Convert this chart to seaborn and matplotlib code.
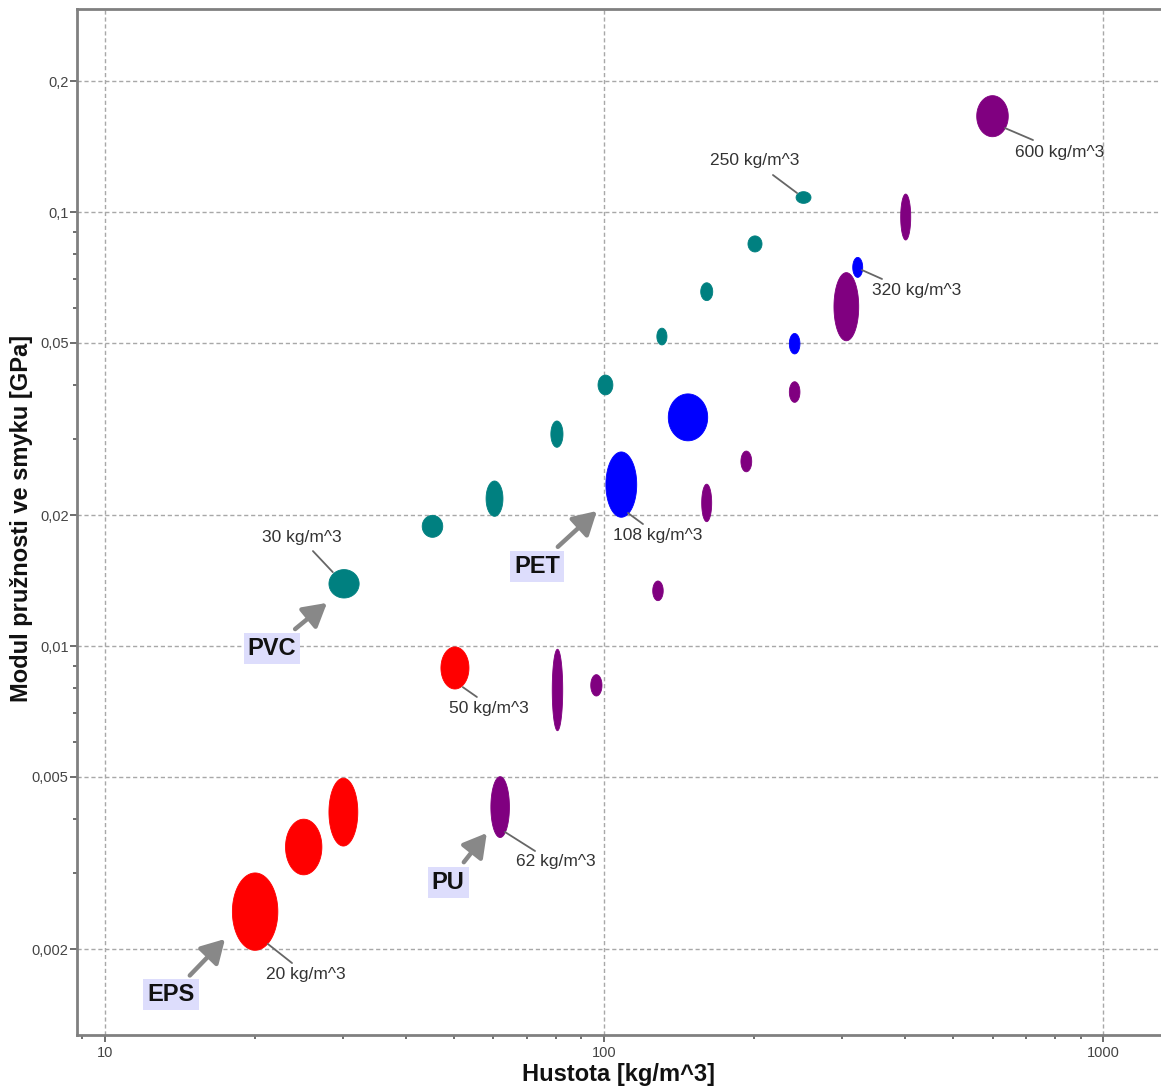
import numpy as np
import pandas as pd
import matplotlib
matplotlib.use("Agg")
import matplotlib.pyplot as plt
from matplotlib.ticker import FixedLocator, FuncFormatter, LogLocator, NullFormatter
import seaborn as sns

# ---------------- data (ranges) ----------------
eps_dens_lo = [18.0, 23.0, 28.1, 47.1]
eps_dens_hi = [22.2, 27.2, 32.1, 53.6]
eps_g_lo = [0.00199, 0.00297, 0.00346, 0.00796]
eps_g_hi = [0.00300, 0.00399, 0.00496, 0.00995]

pvc_dens_lo = [28.1, 43.2, 58.0, 78.2, 97.2, 127.5, 156.1, 194.1, 242.3]
pvc_dens_hi = [32.3, 47.5, 62.7, 82.7, 104.1, 133.6, 165.0, 207.1, 259.6]
pvc_g_lo = [0.0129, 0.0178, 0.0199, 0.0287, 0.0379, 0.0494, 0.0625, 0.0809, 0.1047]
pvc_g_hi = [0.0150, 0.0200, 0.0240, 0.0330, 0.0421, 0.0540, 0.0687, 0.0881, 0.1114]

pet_dens_lo = [100.8, 134.4, 234.9, 314.7]
pet_dens_hi = [116.2, 161.2, 246.7, 329.5]
pet_g_lo = [0.0198, 0.0297, 0.0471, 0.0707]
pet_g_hi = [0.0280, 0.0381, 0.0525, 0.0786]

pu_dens_lo = [59.3, 78.7, 94.0, 125.1, 156.8, 187.9, 234.9, 288.6, 392.6, 557.5]
pu_dens_hi = [64.6, 82.6, 99.0, 131.3, 164.2, 197.5, 246.7, 323.5, 411.2, 644.8]
pu_g_lo = [0.00362, 0.00638, 0.00767, 0.01272, 0.01934, 0.0252, 0.03643, 0.0505, 0.0862, 0.1491]
pu_g_hi = [0.00500, 0.00983, 0.00859, 0.01412, 0.0236, 0.02813, 0.04064, 0.0725, 0.1100, 0.1854]

materials = ["EPS", "PVC", "PET", "PU"]
colors = {"EPS": "#ff0000", "PVC": "#008080", "PET": "#0000ff", "PU": "#800080"}

x_ticks = [10, 100, 1000]
y_ticks = [0.002, 0.005, 0.01, 0.02, 0.05, 0.1, 0.2]

density_labels = ["20 kg/m^3", "50 kg/m^3", "30 kg/m^3", "250 kg/m^3",
                  "108 kg/m^3", "320 kg/m^3", "62 kg/m^3", "600 kg/m^3"]

xlabel = "Hustota [kg/m^3]"
ylabel = "Modul pružnosti ve smyku [GPa]"

# ---------------- table ----------------
rows = []
for m, dl, dh, gl, gh in [("EPS", eps_dens_lo, eps_dens_hi, eps_g_lo, eps_g_hi),
                          ("PVC", pvc_dens_lo, pvc_dens_hi, pvc_g_lo, pvc_g_hi),
                          ("PET", pet_dens_lo, pet_dens_hi, pet_g_lo, pet_g_hi),
                          ("PU", pu_dens_lo, pu_dens_hi, pu_g_lo, pu_g_hi)]:
    for a, b, c, d in zip(dl, dh, gl, gh):
        rows.append(dict(material=m, dlo=a, dhi=b, glo=c, ghi=d))
df = pd.DataFrame(rows)
df["density"] = np.sqrt(df.dlo * df.dhi)
df["G"] = np.sqrt(df.glo * df.ghi)

# ---------------- plot ----------------
sns.set_theme(style="white")
plt.rcParams["font.family"] = ["Liberation Sans", "DejaVu Sans"]

fig = plt.figure(figsize=(11.61, 10.90), dpi=100)
ax = fig.add_axes([0.0663, 0.0505, 0.9328, 0.9417])
ax.set_xscale("log")
ax.set_yscale("log")
ax.set_xlim(8.79, 1298)
ax.set_ylim(0.00127, 0.2944)

sns.scatterplot(data=df, x="density", y="G", hue="material", palette=colors,
                s=4, linewidth=0, legend=False, ax=ax, zorder=3)

t = np.linspace(0, 2 * np.pi, 200)
for _, r in df.iterrows():
    cx = (np.log10(r.dlo) + np.log10(r.dhi)) / 2
    hx = (np.log10(r.dhi) - np.log10(r.dlo)) / 2
    cy = (np.log10(r.glo) + np.log10(r.ghi)) / 2
    hy = (np.log10(r.ghi) - np.log10(r.glo)) / 2
    ax.fill(10 ** (cx + hx * np.cos(t)), 10 ** (cy + hy * np.sin(t)),
            color=colors[r.material], lw=0.6, ec=colors[r.material], zorder=3)

# grid / ticks
ax.xaxis.set_major_locator(FixedLocator(x_ticks))
ax.yaxis.set_major_locator(FixedLocator(y_ticks))
ax.xaxis.set_minor_locator(LogLocator(base=10, subs=np.arange(2, 10)))
ax.yaxis.set_minor_locator(LogLocator(base=10, subs=[3, 4, 6, 7, 8, 9]))
ax.xaxis.set_minor_formatter(NullFormatter())
ax.yaxis.set_minor_formatter(NullFormatter())
ax.xaxis.set_major_formatter(FuncFormatter(lambda v, p: f"{v:g}"))
ax.yaxis.set_major_formatter(FuncFormatter(lambda v, p: f"{v:g}".replace(".", ",")))
ax.grid(True, which="major", color="#a8a8a8", ls=(0, (3, 2)), lw=1)
ax.set_axisbelow(True)
ax.tick_params(which="both", bottom=True, left=True, top=False, right=False)
ax.tick_params(which="major", direction="out", length=5, width=1.2, color="#555",
               labelsize=10.5, labelcolor="#444")
ax.tick_params(axis="y", which="major", pad=1)
ax.tick_params(axis="x", which="major", pad=3)
ax.tick_params(which="minor", direction="out", length=3, width=1.2, color="#555")
for s in ["left", "bottom", "top"]:
    ax.spines[s].set_color("#808080")
    ax.spines[s].set_linewidth(2)
ax.spines["right"].set_visible(False)

ax.set_xlabel(xlabel, fontsize=17, fontweight="bold", color="#111")
ax.set_ylabel(ylabel, fontsize=17, fontweight="bold", color="#111")
ax.xaxis.set_label_coords(0.5, -0.027)
ax.yaxis.set_label_coords(-0.041, 0.503)

# density labels with leader lines
lab_text = [(25.3, 0.001754), (58.8, 0.00716), (24.8, 0.01783), (200.5, 0.1311),
            (128.2, 0.01793), (423.2, 0.0658), (80.1, 0.00318), (818.6, 0.1374)]
lab_lines = [((21.2, 23.7), (0.002058, 0.001860)),
             ((52.1, 55.6), (0.00804, 0.00763)),
             ((26.1, 28.6), (0.01655, 0.0148)),
             ((217.8, 243.4), (0.1217, 0.1106)),
             ((111.6, 119.6), (0.02025, 0.0191)),
             ((328.4, 360.2), (0.0735, 0.0701)),
             ((63.3, 72.7), (0.003727, 0.00337)),
             ((635.2, 722.8), (0.1561, 0.1465))]
for txt, (tx, ty), (lx, ly) in zip(density_labels, lab_text, lab_lines):
    ax.plot(lx, ly, color="#666", lw=1.3, zorder=4)
    ax.text(tx, ty, txt, fontsize=12.5, color="#333", ha="center", va="center", zorder=5)

# material labels with arrows
mat_box = {"PVC": (21.6, 0.00989), "PET": (73.3, 0.01528), "PU": (48.7, 0.002858), "EPS": (13.56, 0.00157)}
mat_tip = {"PVC": (27.85, 0.01257), "PET": (96.7, 0.02047), "PU": (58.2, 0.003708), "EPS": (17.4, 0.002113)}
for m in materials:
    ax.annotate(m, xy=mat_tip[m], xytext=mat_box[m], ha="center", va="center",
                fontsize=17, fontweight="bold", color="#111", zorder=6,
                bbox=dict(boxstyle="square,pad=0.17", fc="#ddddfc", ec="none"),
                arrowprops=dict(arrowstyle="-|>,head_length=0.7,head_width=0.4",
                                color="#888", lw=3.2, shrinkA=4, shrinkB=0,
                                mutation_scale=20))

fig.savefig("out.png", dpi=100)
